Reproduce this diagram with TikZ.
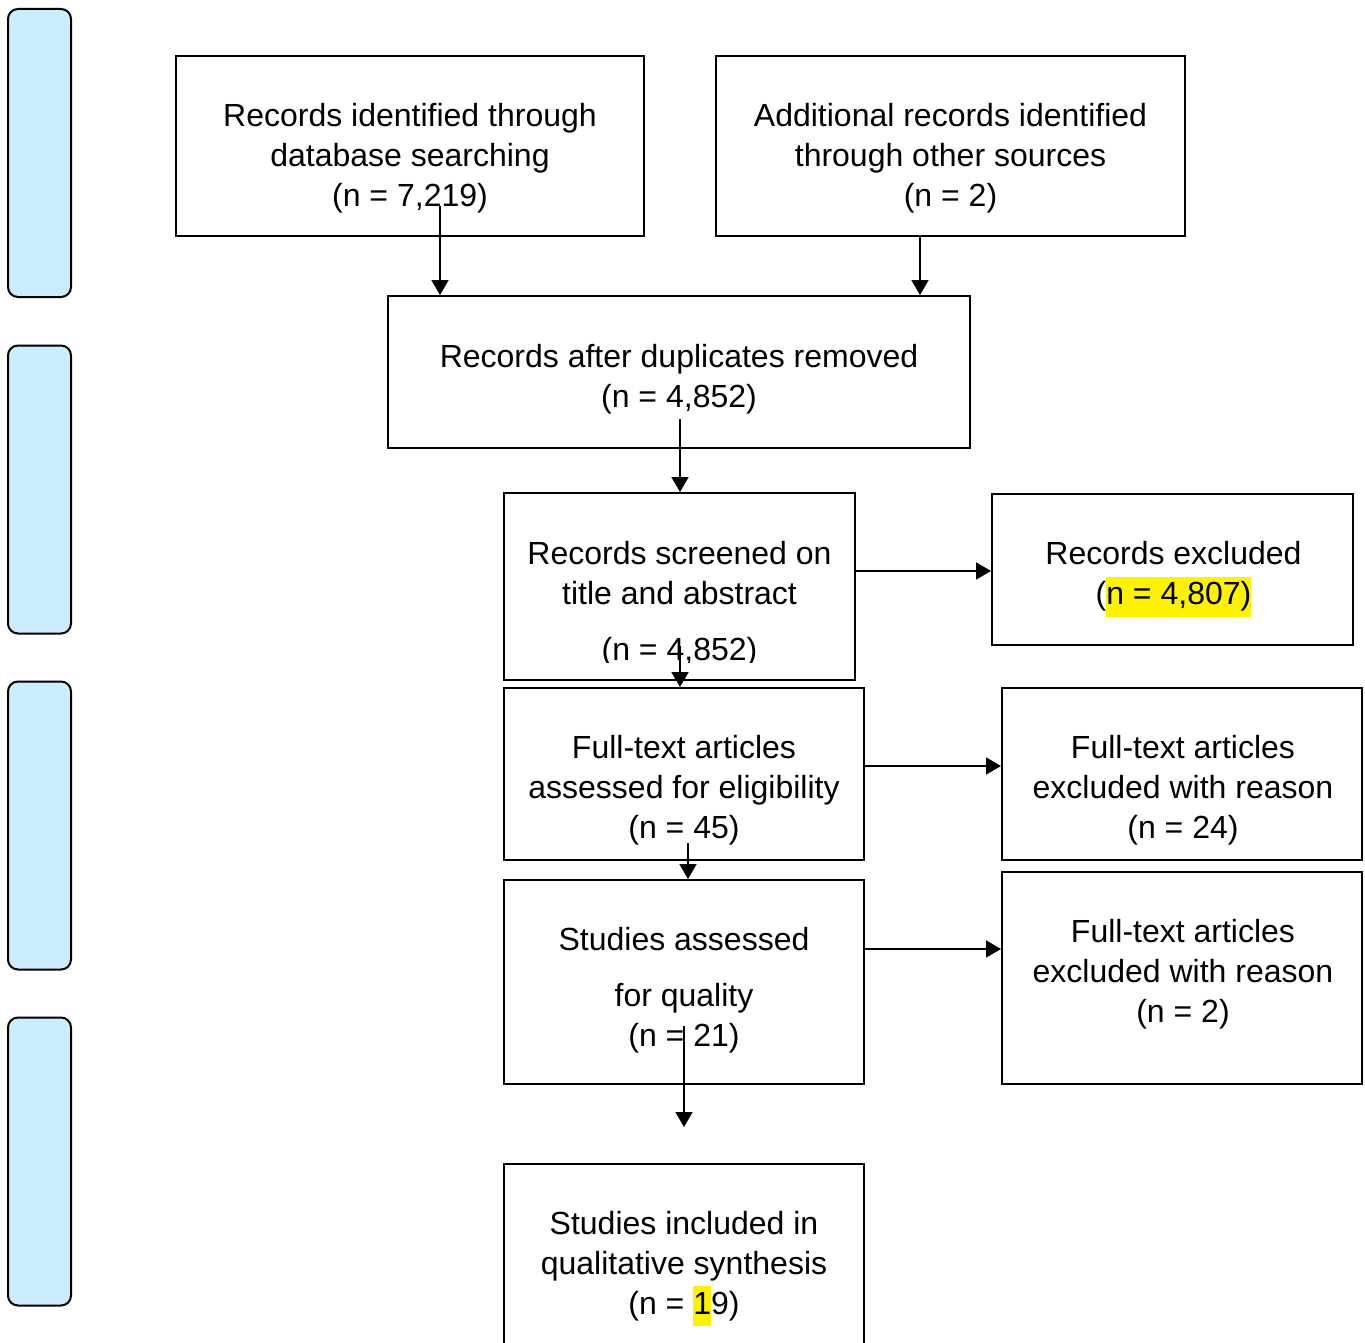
\documentclass[tikz,border=0pt]{standalone}
\usepackage{fontspec}
\setmainfont{Liberation Sans}
\usetikzlibrary{calc, arrows.meta}

\definecolor{phasecol}{RGB}{204,236,255}
\newcommand{\hilite}[1]{{\setlength{\fboxsep}{0pt}\colorbox{yellow}{\strut #1}}}

\begin{document}
\begin{tikzpicture}[x=.5pt, y=-.5pt]
    \tikzstyle{box} = [rectangle, draw=black, line width=1pt, inner sep=0pt]
    \tikzstyle{txt} = [align=center, inner sep=0pt,
        font=\fontsize{16pt}{20pt}\selectfont]
    \tikzstyle{phase} = [rectangle, rounded corners=5pt, fill=phasecol,
        draw=black, line width=1pt, minimum width=31.5pt, minimum height=144pt]
    \tikzstyle{arr} = [line width=.9pt, -{Triangle[length=7.5pt, width=8.5pt]}]

    \useasboundingbox (0, 0) rectangle (1365, 1343);

    % Phases -------------------------------------------
    \foreach \i/\y in {1/153, 2/489.5, 3/825.5, 4/1161.5}
        \node (phase\i) at (39.5, \y) [phase] {};

    % Identification -----------------------------------
    \node (rec) at (410, 146) [box, minimum width=234pt, minimum height=90pt] {};
    \node (rec-t) at ($(rec) + (0, 12)$) [txt]
        {Records identified through\\database searching\\(n = 7,219)};

    \node (other) at ($(rec) + (540.5, 0)$) [box, minimum width=234.5pt, minimum height=90pt] {};
    \node (other-t) at ($(other) + (0, 12)$) [txt]
        {Additional records identified\\through other sources\\(n = 2)};

    \node (dedup) at ($(rec) + (269, 226)$) [box, minimum width=291pt, minimum height=76pt] {};
    \node (dedup-t) at ($(dedup) + (0, 7)$) [txt]
        {Records after duplicates removed\\(n = 4,852)};

    % Screening ----------------------------------------
    \node (screen) at ($(dedup) + (.5, 214.5)$) [box, minimum width=175.5pt, minimum height=93.5pt] {};
    \begin{scope}
        \clip (screen.north west) rectangle ($(screen.south east) + (0, -19)$);
        \node (screen-t) at ($(screen) + (0, 18)$) [txt]
            {Records screened on\\title and abstract\\[8pt](n = 4,852)};
    \end{scope}

    \node (excl) at ($(screen) + (493, -17)$) [box, minimum width=180.5pt, minimum height=75.5pt] {};
    \node (excl-t) at ($(excl) + (1, 9.5)$) [txt]
        {Records excluded\\(\hilite{n = 4,807)}};

    % Eligibility --------------------------------------
    \node (fulltext) at ($(screen) + (4.5, 187.5)$) [box, minimum width=180pt, minimum height=86pt] {};
    \node (fulltext-t) at ($(fulltext) + (0, 16)$) [txt]
        {Full-text articles\\assessed for eligibility\\(n = 45)};

    \node (ftexcl) at ($(fulltext) + (498, 0)$) [box, minimum width=180pt, minimum height=86pt] {};
    \node (ftexcl-t) at ($(ftexcl) + (1, 16)$) [txt]
        {Full-text articles\\excluded with reason\\(n = 24)};

    \node (quality) at ($(fulltext) + (0, 208)$) [box, minimum width=180pt, minimum height=102pt] {};
    \node (quality-t) at ($(quality) + (0, 8)$) [txt]
        {Studies assessed\\[8pt]for quality\\(n = 21)};

    \node (qexcl) at ($(quality) + (498, -4)$) [box, minimum width=180pt, minimum height=106pt] {};
    \node (qexcl-t) at ($(qexcl) + (1, -4)$) [txt]
        {Full-text articles\\excluded with reason\\(n = 2)};

    % Included -----------------------------------------
    \node (incl) at ($(quality) + (0, 281)$) [box, minimum width=180pt, minimum height=99pt] {};
    \node (incl-t) at ($(incl) + (0, 5.5)$) [txt]
        {Studies included in\\qualitative synthesis\\(n = \hilite{1}9)};

    % Flow ---------------------------------------------
    \coordinate (a1) at ($(rec.south) + (30, -31)$);
    \draw [arr] (a1) -- (a1 |- dedup.north);
    \coordinate (a2) at ($(other.south) + (-30.5, 0)$);
    \draw [arr] (a2) -- (a2 |- dedup.north);
    \coordinate (a3) at ($(dedup.south) + (1, -30)$);
    \draw [arr] (a3) -- (a3 |- screen.north);
    \coordinate (a4) at ($(screen.south) + (.5, -35)$);
    \draw [arr] (a4) -- (a4 |- fulltext.north);
    \coordinate (a5) at ($(screen.east) + (0, -15.5)$);
    \draw [arr] (a5) -- (a5 -| excl.west);
    \coordinate (a6) at ($(fulltext.south) + (4, -18)$);
    \draw [arr] (a6) -- (a6 |- quality.north);
    \coordinate (a7) at ($(fulltext.east) + (0, -8)$);
    \draw [arr] (a7) -- (a7 -| ftexcl.west);
    \coordinate (a8) at ($(quality.east) + (0, -33)$);
    \draw [arr] (a8) -- (a8 -| qexcl.west);
    \coordinate (a9) at ($(quality.south) + (0, -59)$);
    \coordinate (a9end) at ($(incl.north) + (0, -36)$);
    \draw [arr] (a9) -- (a9end);
\end{tikzpicture}
\end{document}
